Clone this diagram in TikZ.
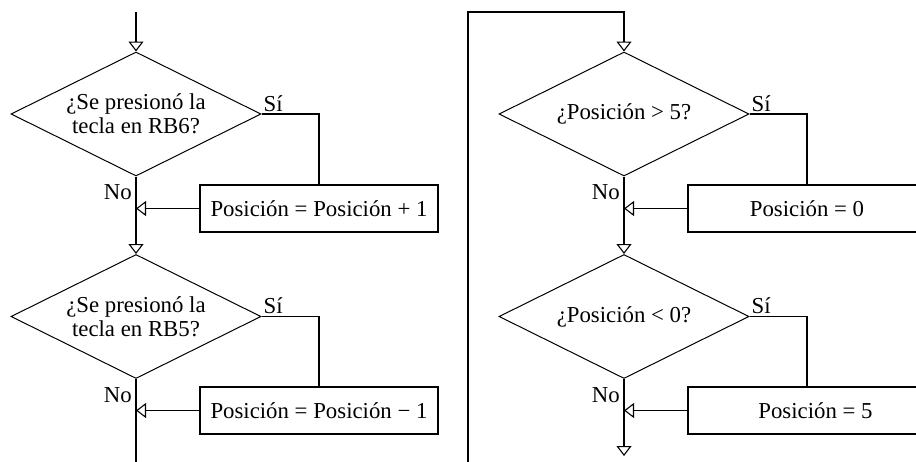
\documentclass[tikz,border=0pt]{standalone}
\usepackage{fontspec}
\setmainfont{Liberation Serif}
\usetikzlibrary{shapes.geometric,arrows.meta}
\begin{document}
\begin{tikzpicture}[x=1pt,y=-1pt,
  every node/.style={font=\fontsize{22.8}{24}\selectfont},
  dec/.style={draw, shape=diamond, minimum width=250pt, minimum height=124pt, inner sep=0pt, line width=1pt},
  dtext/.style={align=center, inner sep=0pt},
  actbox/.style={draw, rectangle, minimum width=238pt, minimum height=47pt, inner sep=0pt, line width=1.6pt},
  flow/.style={line width=1.6pt},
  arr/.style={flow, -{Triangle[open, length=10pt, width=15pt, line width=1.1pt]}},
  lbl/.style={inner sep=0pt}]
\useasboundingbox (0,0) rectangle (916,461);
\clip (0,0) rectangle (916,461);
% left column
\node[dec] (d1) at (136,114) {};
\node[dtext] (t1) at (d1.center) {¿Se presionó la\\tecla en RB6?};
\node[actbox] (b1) at (319,208.5) {Posición = Posición + 1};
\node[dec] (d2) at (136,316.5) {};
\node[dtext] (t2) at (d2.center) {¿Se presionó la\\tecla en RB5?};
\node[actbox] (b2) at (319,410.5) {Posición = Posición − 1};
\coordinate (top1) at (136,12);
\coordinate (bot1) at (136,465);
\draw[arr] (top1) -- (d1.north);
\draw[arr] (d1.south) -- (d2.north);
\draw[flow] (d2.south) -- (bot1);
\draw[flow] (d1.east) -| (b1.north);
\draw[flow] (d2.east) -| (b2.north);
\draw[arr] (b1.west) -- (b1.west -| d1.south);
\draw[arr] (b2.west) -- (b2.west -| d2.south);
\node[lbl, anchor=base west, xshift=2pt, yshift=3pt] (s1) at (d1.east) {Sí};
\node[lbl, anchor=base west, xshift=2pt, yshift=3pt] (s2) at (d2.east) {Sí};
\node[lbl, anchor=base east, xshift=-4pt, yshift=-23pt] (n1) at (d1.south) {No};
\node[lbl, anchor=base east, xshift=-4pt, yshift=-23pt] (n2) at (d2.south) {No};
% right column
\node[dec] (d3) at (624,114) {};
\node[dtext] (t3) at (d3.center) {¿Posición > 5?};
\node[actbox] (b3) at (807,208.5) {Posición = 0};
\node[dec] (d4) at (624,316.5) {};
\node[dtext] (t4) at (d4.center) {¿Posición < 0?};
\node[actbox] (b4) at (807,410.5) {\hspace*{17pt}Posición = 5};
\coordinate (lb) at (468,465);
\coordinate (lt) at (468,12);
\coordinate (end) at (624,456);
\draw[arr] (lb) -- (lt) -| (d3.north);
\draw[arr] (d3.south) -- (d4.north);
\draw[arr] (d4.south) -- (end);
\draw[flow] (d3.east) -| (b3.north);
\draw[flow] (d4.east) -| (b4.north);
\draw[arr] (b3.west) -- (b3.west -| d3.south);
\draw[arr] (b4.west) -- (b4.west -| d4.south);
\node[lbl, anchor=base west, xshift=2pt, yshift=3pt] (s3) at (d3.east) {Sí};
\node[lbl, anchor=base west, xshift=2pt, yshift=3pt] (s4) at (d4.east) {Sí};
\node[lbl, anchor=base east, xshift=-4pt, yshift=-23pt] (n3) at (d3.south) {No};
\node[lbl, anchor=base east, xshift=-4pt, yshift=-23pt] (n4) at (d4.south) {No};
\end{tikzpicture}
\end{document}
